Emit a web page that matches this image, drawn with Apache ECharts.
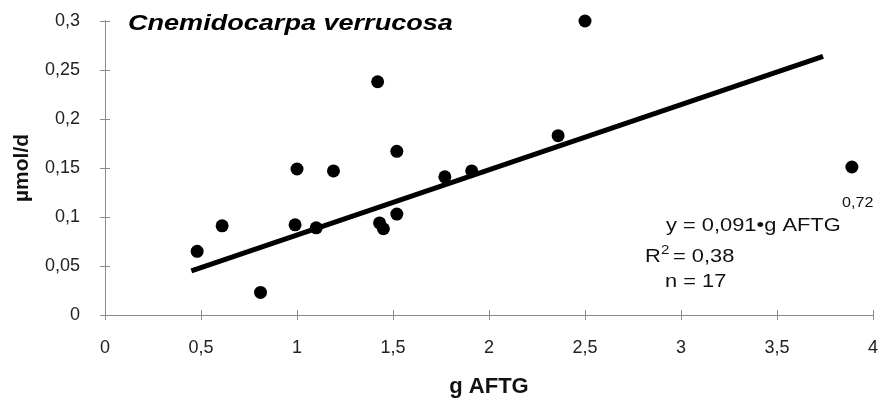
<!DOCTYPE html>
<html>
<head>
<meta charset="utf-8">
<script src="https://cdn.jsdelivr.net/npm/echarts@6/dist/echarts.min.js"></script>
<style>
  html, body { margin: 0; padding: 0; background: #fff; }
  #chart { width: 888px; height: 401px; }
</style>
</head>
<body>
<div id="chart"></div>
<script>
// Body mass (g AFTG) against daily rate (µmol/d) for Cnemidocarpa verrucosa
const massG = [0.48, 0.61, 0.81, 0.99, 1.00, 1.10, 1.19, 1.42, 1.43, 1.45, 1.52, 1.52, 1.77, 1.91, 2.36, 2.50, 3.89];
const rateUmol = [0.065, 0.091, 0.023, 0.092, 0.149, 0.089, 0.147, 0.238, 0.094, 0.088, 0.167, 0.103, 0.141, 0.147, 0.183, 0.300, 0.151];

// Regression line as drawn, from its two end points
const fitX = [0.45, 3.74];
const fitY = [0.045, 0.264];

const xTicks = [0, 0.5, 1, 1.5, 2, 2.5, 3, 3.5, 4];
const yTicks = [0, 0.05, 0.1, 0.15, 0.2, 0.25, 0.3];

const FONT = '"Liberation Sans", Arial, Helvetica, sans-serif';
const AXIS_COLOR = '#8c8c8c';
const decimalComma = v => String(Math.round(v * 1000) / 1000).replace('.', ',');

const chart = echarts.init(document.getElementById('chart'), null, { renderer: 'canvas' });

function baseAxis(extra) {
  return Object.assign({
    type: 'value',
    splitLine: { show: false },
    axisLine: { show: true, lineStyle: { color: AXIS_COLOR, width: 1 } },
    axisTick: { show: true, length: 5, lineStyle: { color: AXIS_COLOR, width: 1 } }
  }, extra);
}

function label(text, x, y, size, extra) {
  return {
    type: 'text', x: x, y: y, scaleX: 1.15,
    style: Object.assign({
      text: text, fill: '#111', fontFamily: FONT, fontSize: size,
      align: 'left', verticalAlign: 'middle'
    }, extra || {})
  };
}

const option = {
  backgroundColor: '#ffffff',
  animation: false,
  grid: { left: 105, right: 15, top: 21, bottom: 86, containLabel: false, outerBoundsMode: 'none' },
  xAxis: [
    baseAxis({
      min: xTicks[0], max: xTicks[xTicks.length - 1], interval: 0.5,
      axisLabel: { color: '#222', fontFamily: FONT, fontSize: 18, margin: 24, formatter: decimalComma },
      name: 'g AFTG', nameLocation: 'middle', nameGap: 61,
      nameTextStyle: { color: '#111', fontFamily: FONT, fontSize: 22, fontWeight: 'bold' }
    }),
    baseAxis({
      min: xTicks[0], max: xTicks[xTicks.length - 1], interval: 0.5, position: 'bottom',
      axisTick: { show: true, inside: true, length: 5, lineStyle: { color: AXIS_COLOR, width: 1 } },
      axisLabel: { show: false }
    })
  ],
  yAxis: [
    baseAxis({
      min: yTicks[0], max: yTicks[yTicks.length - 1], interval: 0.05,
      axisLabel: { color: '#222', fontFamily: FONT, fontSize: 18, margin: 25, formatter: decimalComma },
      name: 'µmol/d', nameLocation: 'middle', nameGap: 72, nameRotate: 90,
      nameTextStyle: { color: '#111', fontFamily: FONT, fontSize: 21, fontWeight: 'bold' }
    }),
    baseAxis({
      min: yTicks[0], max: yTicks[yTicks.length - 1], interval: 0.05, position: 'left',
      axisTick: { show: true, inside: true, length: 5, lineStyle: { color: AXIS_COLOR, width: 1 } },
      axisLabel: { show: false }
    })
  ],
  series: [
    {
      type: 'line',
      data: fitX.map((x, i) => [x, fitY[i]]),
      symbol: 'none',
      lineStyle: { color: '#000', width: 5, cap: 'butt' },
      silent: true,
      z: 2
    },
    {
      type: 'scatter',
      data: massG.map((x, i) => [x, rateUmol[i]]),
      symbol: 'circle',
      symbolSize: 13,
      itemStyle: { color: '#000', opacity: 1 },
      z: 3
    }
  ],
  graphic: [
    {
      type: 'text', x: 128, y: 24, scaleX: 1.23,
      style: {
        text: 'Cnemidocarpa verrucosa', fill: '#000', fontFamily: FONT, fontSize: 22,
        fontWeight: 'bold', fontStyle: 'italic', align: 'left', verticalAlign: 'middle'
      }
    },
    label('y = 0,091•g AFTG', 666, 226, 19),
    label('0,72', 842, 203, 14),
    label('R', 645, 257, 19),
    label('2', 661, 250, 13),
    label('= 0,38', 673, 257, 19),
    label('n = 17', 665, 282, 19)
  ]
};

chart.setOption(option);
</script>
</body>
</html>
